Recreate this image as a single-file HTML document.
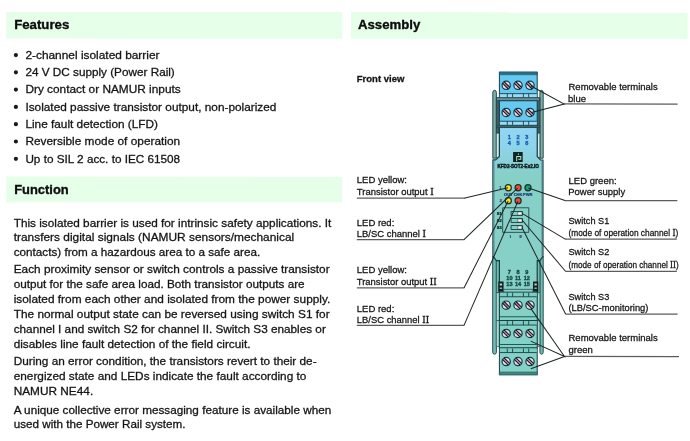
<!DOCTYPE html>
<html><head><meta charset="utf-8">
<style>
html,body{margin:0;padding:0;background:#fff;}
body{width:690px;height:441px;position:relative;overflow:hidden;font-family:"Liberation Sans",sans-serif;}
svg{position:absolute;left:0;top:0;will-change:transform;}
text{font-family:"Liberation Sans",sans-serif;fill:#151515;stroke:#151515;stroke-width:0.3px;}
.h{font-weight:bold;font-size:13.5px;fill:#0c0c0c;stroke:#0c0c0c;stroke-width:0.35px;}
.p{font-size:11.8px;}
.l{font-size:9.8px;stroke-width:0.28px;}

.ser{font-family:"Liberation Serif",serif;font-size:10.7px;}
.ld{stroke:#1c2424;stroke-width:1.0;fill:none;}
</style></head><body>
<svg width="690" height="441" viewBox="0 0 690 441">
<g transform="matrix(1 0.0003 0 1 0 0)">
<rect x="6.3" y="12" width="336" height="26.6" fill="#e5ffe8"/>
<rect x="6.3" y="176.6" width="336" height="25.6" fill="#e5ffe8"/>
<rect x="351" y="12" width="336.6" height="26.6" fill="#e5ffe8"/>
<text class="h" x="14.2" y="28.7" textLength="55.1" lengthAdjust="spacingAndGlyphs">Features</text>
<text class="h" x="14.2" y="193.8" textLength="54.5" lengthAdjust="spacingAndGlyphs">Function</text>
<text class="h" x="358" y="28.7" textLength="62.3" lengthAdjust="spacingAndGlyphs">Assembly</text>

<circle cx="15.9" cy="55.1" r="2.1" fill="#1a1a1a"/><text class="p" x="25.4" y="58.7" textLength="134.1" lengthAdjust="spacingAndGlyphs">2-channel isolated barrier</text>
<circle cx="15.9" cy="72.3" r="2.1" fill="#1a1a1a"/><text class="p" x="25.4" y="76.0" textLength="149.4" lengthAdjust="spacingAndGlyphs">24 V DC supply (Power Rail)</text>
<circle cx="15.9" cy="89.6" r="2.1" fill="#1a1a1a"/><text class="p" x="25.4" y="93.3" textLength="155.3" lengthAdjust="spacingAndGlyphs">Dry contact or NAMUR inputs</text>
<circle cx="15.9" cy="106.9" r="2.1" fill="#1a1a1a"/><text class="p" x="25.4" y="110.6" textLength="251.0" lengthAdjust="spacingAndGlyphs">Isolated passive transistor output, non-polarized</text>
<circle cx="15.9" cy="124.2" r="2.1" fill="#1a1a1a"/><text class="p" x="25.4" y="127.9" textLength="132.6" lengthAdjust="spacingAndGlyphs">Line fault detection (LFD)</text>
<circle cx="15.9" cy="141.5" r="2.1" fill="#1a1a1a"/><text class="p" x="25.4" y="145.2" textLength="154.7" lengthAdjust="spacingAndGlyphs">Reversible mode of operation</text>
<circle cx="15.9" cy="158.8" r="2.1" fill="#1a1a1a"/><text class="p" x="25.4" y="162.5" textLength="154.7" lengthAdjust="spacingAndGlyphs">Up to SIL 2 acc. to IEC 61508</text>
<text class="p" x="13.7" y="226.7" textLength="317.6" lengthAdjust="spacingAndGlyphs">This isolated barrier is used for intrinsic safety applications. It</text>
<text class="p" x="13.7" y="241.3" textLength="280.5" lengthAdjust="spacingAndGlyphs">transfers digital signals (NAMUR sensors/mechanical</text>
<text class="p" x="13.7" y="255.9" textLength="246.6" lengthAdjust="spacingAndGlyphs">contacts) from a hazardous area to a safe area.</text>
<text class="p" x="13.7" y="273.2" textLength="315.9" lengthAdjust="spacingAndGlyphs">Each proximity sensor or switch controls a passive transistor</text>
<text class="p" x="13.7" y="288.1" textLength="290.9" lengthAdjust="spacingAndGlyphs">output for the safe area load. Both transistor outputs are</text>
<text class="p" x="13.7" y="303.0" textLength="316.6" lengthAdjust="spacingAndGlyphs">isolated from each other and isolated from the power supply.</text>
<text class="p" x="13.7" y="317.9" textLength="315.9" lengthAdjust="spacingAndGlyphs">The normal output state can be reversed using switch S1 for</text>
<text class="p" x="13.7" y="332.8" textLength="312.1" lengthAdjust="spacingAndGlyphs">channel I and switch S2 for channel II. Switch S3 enables or</text>
<text class="p" x="13.7" y="347.7" textLength="236.8" lengthAdjust="spacingAndGlyphs">disables line fault detection of the field circuit.</text>
<text class="p" x="13.7" y="365.2" textLength="302.9" lengthAdjust="spacingAndGlyphs">During an error condition, the transistors revert to their de-</text>
<text class="p" x="13.7" y="380.1" textLength="292.7" lengthAdjust="spacingAndGlyphs">energized state and LEDs indicate the fault according to</text>
<text class="p" x="13.7" y="395.0" textLength="79.5" lengthAdjust="spacingAndGlyphs">NAMUR NE44.</text>
<text class="p" x="13.7" y="413.6" textLength="317.6" lengthAdjust="spacingAndGlyphs">A unique collective error messaging feature is available when</text>
<text class="p" x="13.7" y="428.4" textLength="171.8" lengthAdjust="spacingAndGlyphs">used with the Power Rail system.</text>
<defs><linearGradient id="face" gradientUnits="userSpaceOnUse" x1="0" y1="127" x2="0" y2="292"><stop offset="0" stop-color="#92d6f3"/><stop offset="0.11" stop-color="#8ed4ec"/><stop offset="0.19" stop-color="#8ad2de"/><stop offset="0.25" stop-color="#88d1cd"/><stop offset="0.30" stop-color="#87d0c7"/><stop offset="1" stop-color="#87d0c7"/></linearGradient></defs>
<path d="M492.8 92.2 Q492.8 90.2 494.6 90.2 Q496.4 90.2 496.4 92.2 L496.4 158 L492.8 158 Z" fill="#80ada2" stroke="#173f48" stroke-width="0.9"/>
<path d="M539.9 92.2 Q539.9 90.2 541.6 90.2 Q543.2 90.2 543.2 92.2 L543.2 158 L539.9 158 Z" fill="#80ada2" stroke="#173f48" stroke-width="0.9"/>
<rect x="496.3" y="97.6" width="3.1" height="35.4" fill="#3f6062" stroke="#173f48" stroke-width="0.7"/>
<rect x="496.3" y="133" width="3.1" height="24.6" fill="#d4ebe6" stroke="#173f48" stroke-width="0.7"/>
<rect x="537.2" y="97.6" width="2.7" height="35.4" fill="#3f6062" stroke="#173f48" stroke-width="0.7"/>
<rect x="537.2" y="133" width="2.7" height="24.6" fill="#d4ebe6" stroke="#173f48" stroke-width="0.7"/>
<path d="M492.7 256 L496.4 260.5 L496.4 352.2 Q496.4 354 494.5 354 Q492.7 354 492.7 352.2 Z" fill="#72bfb1" stroke="#173f48" stroke-width="0.9"/>
<path d="M543.2 256 L539.9 260.5 L539.9 352.2 Q539.9 354 541.5 354 Q543.2 354 543.2 352.2 Z" fill="#72bfb1" stroke="#173f48" stroke-width="0.9"/>
<rect x="496.3" y="260.5" width="3.1" height="32" fill="#72bfb1" stroke="#173f48" stroke-width="0.7"/>
<rect x="496.3" y="292.5" width="3.1" height="28" fill="#a8ddd2" stroke="#173f48" stroke-width="0.6"/>
<rect x="537.2" y="260.5" width="2.7" height="32" fill="#72bfb1" stroke="#173f48" stroke-width="0.7"/>
<rect x="537.2" y="292.5" width="2.7" height="28" fill="#a8ddd2" stroke="#173f48" stroke-width="0.6"/>
<rect x="496.3" y="320.5" width="3.1" height="26" fill="#a8ddd2" stroke="#173f48" stroke-width="0.6"/>
<rect x="537.2" y="320.5" width="2.7" height="26" fill="#a8ddd2" stroke="#173f48" stroke-width="0.6"/>
<path d="M499.4 127 L537.2 127 L537.2 156.3 L540.5 159.8 L543.0 159.8 L543.0 256 L539.9 260.5 L537.2 260.5 L537.2 292.4 L499.4 292.4 L499.4 260.5 L496.4 260.5 L492.9 256 L492.9 159.8 L495.6 159.8 L499.4 156.3 Z" fill="url(#face)" stroke="#173f48" stroke-width="1.15"/>
<line x1="494.3" y1="160.5" x2="494.3" y2="256" stroke="#173f48" stroke-width="0.5" opacity="0.55"/>
<line x1="541.7" y1="160.5" x2="541.7" y2="256" stroke="#173f48" stroke-width="0.5" opacity="0.55"/>
<rect x="499.4" y="72.2" width="37.8" height="25.4" fill="#66c9f0" stroke="#173f48" stroke-width="1"/>
<rect x="499.9" y="93.5" width="36.8" height="3.6" fill="#9bdaf5"/>
<line x1="499.9" y1="93.5" x2="536.7" y2="93.5" stroke="#173f48" stroke-width="0.9"/>
<line x1="507.3" y1="93.5" x2="507.3" y2="97.1" stroke="#173f48" stroke-width="0.9"/>
<line x1="512.6" y1="93.5" x2="512.6" y2="97.1" stroke="#173f48" stroke-width="0.9"/>
<line x1="523.4" y1="93.5" x2="523.4" y2="97.1" stroke="#173f48" stroke-width="0.9"/>
<line x1="528.7" y1="93.5" x2="528.7" y2="97.1" stroke="#173f48" stroke-width="0.9"/>
<circle cx="506.2" cy="85.2" r="4.15" fill="#e4e1e7" stroke="#143a4e" stroke-width="1.2"/>
<line x1="504.05" y1="81.55" x2="509.85" y2="87.36" stroke="#12161e" stroke-width="1.15"/>
<line x1="503.30" y1="82.30" x2="509.10" y2="88.11" stroke="#a84050" stroke-width="0.6"/>
<line x1="502.55" y1="83.05" x2="508.35" y2="88.86" stroke="#12161e" stroke-width="1.15"/>
<circle cx="518.0" cy="85.2" r="4.15" fill="#e4e1e7" stroke="#143a4e" stroke-width="1.2"/>
<line x1="515.85" y1="81.55" x2="521.65" y2="87.36" stroke="#12161e" stroke-width="1.15"/>
<line x1="515.10" y1="82.30" x2="520.90" y2="88.11" stroke="#a84050" stroke-width="0.6"/>
<line x1="514.35" y1="83.05" x2="520.15" y2="88.86" stroke="#12161e" stroke-width="1.15"/>
<circle cx="530.0" cy="85.2" r="4.15" fill="#e4e1e7" stroke="#143a4e" stroke-width="1.2"/>
<line x1="527.85" y1="81.55" x2="533.65" y2="87.36" stroke="#12161e" stroke-width="1.15"/>
<line x1="527.10" y1="82.30" x2="532.90" y2="88.11" stroke="#a84050" stroke-width="0.6"/>
<line x1="526.35" y1="83.05" x2="532.15" y2="88.86" stroke="#12161e" stroke-width="1.15"/>
<rect x="496.6" y="97.6" width="43" height="2.9" fill="#6f8f90" stroke="#173f48" stroke-width="0.7"/>
<rect x="499.4" y="100.5" width="37.8" height="24.7" fill="#66c9f0" stroke="#173f48" stroke-width="1"/>
<rect x="499.9" y="121.1" width="36.8" height="3.6" fill="#9bdaf5"/>
<line x1="499.9" y1="121.1" x2="536.7" y2="121.1" stroke="#173f48" stroke-width="0.9"/>
<line x1="507.3" y1="121.1" x2="507.3" y2="124.7" stroke="#173f48" stroke-width="0.9"/>
<line x1="512.6" y1="121.1" x2="512.6" y2="124.7" stroke="#173f48" stroke-width="0.9"/>
<line x1="523.4" y1="121.1" x2="523.4" y2="124.7" stroke="#173f48" stroke-width="0.9"/>
<line x1="528.7" y1="121.1" x2="528.7" y2="124.7" stroke="#173f48" stroke-width="0.9"/>
<circle cx="506.2" cy="112.3" r="4.15" fill="#e4e1e7" stroke="#143a4e" stroke-width="1.2"/>
<line x1="504.05" y1="108.64" x2="509.85" y2="114.45" stroke="#12161e" stroke-width="1.15"/>
<line x1="503.30" y1="109.39" x2="509.10" y2="115.20" stroke="#a84050" stroke-width="0.6"/>
<line x1="502.55" y1="110.14" x2="508.35" y2="115.95" stroke="#12161e" stroke-width="1.15"/>
<circle cx="518.0" cy="112.3" r="4.15" fill="#e4e1e7" stroke="#143a4e" stroke-width="1.2"/>
<line x1="515.85" y1="108.64" x2="521.65" y2="114.45" stroke="#12161e" stroke-width="1.15"/>
<line x1="515.10" y1="109.39" x2="520.90" y2="115.20" stroke="#a84050" stroke-width="0.6"/>
<line x1="514.35" y1="110.14" x2="520.15" y2="115.95" stroke="#12161e" stroke-width="1.15"/>
<circle cx="530.0" cy="112.3" r="4.15" fill="#e4e1e7" stroke="#143a4e" stroke-width="1.2"/>
<line x1="527.85" y1="108.64" x2="533.65" y2="114.45" stroke="#12161e" stroke-width="1.15"/>
<line x1="527.10" y1="109.39" x2="532.90" y2="115.20" stroke="#a84050" stroke-width="0.6"/>
<line x1="526.35" y1="110.14" x2="532.15" y2="115.95" stroke="#12161e" stroke-width="1.15"/>
<rect x="496.6" y="125.2" width="43" height="2.2" fill="#3f5f60" stroke="#173f48" stroke-width="0.6"/>
<text x="509.4" y="138.9" text-anchor="middle" style="font-size:5.6px;font-weight:bold;fill:#1a5fb0;stroke:#1a5fb0;stroke-width:0.35px">1</text>
<text x="509.4" y="145.1" text-anchor="middle" style="font-size:5.6px;font-weight:bold;fill:#1a5fb0;stroke:#1a5fb0;stroke-width:0.35px">4</text>
<text x="518.0" y="138.9" text-anchor="middle" style="font-size:5.6px;font-weight:bold;fill:#1a5fb0;stroke:#1a5fb0;stroke-width:0.35px">2</text>
<text x="518.0" y="145.1" text-anchor="middle" style="font-size:5.6px;font-weight:bold;fill:#1a5fb0;stroke:#1a5fb0;stroke-width:0.35px">5</text>
<text x="526.8" y="138.9" text-anchor="middle" style="font-size:5.6px;font-weight:bold;fill:#1a5fb0;stroke:#1a5fb0;stroke-width:0.35px">3</text>
<text x="526.8" y="145.1" text-anchor="middle" style="font-size:5.6px;font-weight:bold;fill:#1a5fb0;stroke:#1a5fb0;stroke-width:0.35px">6</text>
<rect x="513.1" y="151.8" width="9.6" height="10" fill="#10241f"/>
<path d="M516.7 161.2 L516.7 156.4 L520.8 156.4 L520.8 159 L518.3 159" fill="none" stroke="#b4e2d4" stroke-width="1"/><path d="M517.6 154.6 L518.6 152.6 L519 154.8 Z" fill="#9fd0c2"/>
<text x="518.2" y="167.6" text-anchor="middle" textLength="41.5" lengthAdjust="spacingAndGlyphs" style="font-size:4.6px;font-weight:bold;fill:#0b181c;stroke:#0b181c;stroke-width:0.4px">KFD2-SOT2-Ex2.IO</text>
<circle cx="508.3" cy="187.6" r="3.05" fill="#f7e326" stroke="#1e2e26" stroke-width="1.2"/>
<circle cx="518.1" cy="187.6" r="3.05" fill="#f04c3b" stroke="#1e2e26" stroke-width="1.2"/>
<circle cx="528.0" cy="187.6" r="3.05" fill="#17a07a" stroke="#1e2e26" stroke-width="1.2"/>
<circle cx="508.3" cy="200.5" r="3.05" fill="#f7e326" stroke="#1e2e26" stroke-width="1.2"/>
<circle cx="518.1" cy="200.5" r="3.05" fill="#f04c3b" stroke="#1e2e26" stroke-width="1.2"/>
<text x="500.6" y="188.9" text-anchor="middle" style="font-size:4.4px;font-weight:bold;fill:#2a4a6a;stroke:#2a4a6a;stroke-width:0.15px">1</text>
<text x="500.8" y="202" text-anchor="middle" style="font-size:4.4px;font-weight:bold;fill:#2a4a6a;stroke:#2a4a6a;stroke-width:0.15px">2</text>
<text x="508.3" y="195.9" text-anchor="middle" style="font-size:4.1px;font-weight:bold;fill:#173c78;stroke:#173c78;stroke-width:0.2px">OUT</text>
<text x="518.1" y="195.9" text-anchor="middle" style="font-size:4.1px;font-weight:bold;fill:#173c78;stroke:#173c78;stroke-width:0.2px">CHK</text>
<text x="527.8" y="195.9" text-anchor="middle" style="font-size:4.1px;font-weight:bold;fill:#173c78;stroke:#173c78;stroke-width:0.2px">PWR</text>
<rect x="502.7" y="207.6" width="26.1" height="24.6" fill="#87d0c7" stroke="#1e4a4a" stroke-width="0.9"/>
<rect x="511.1" y="211.3" width="11.4" height="4" fill="#87d0c7" stroke="#163c3c" stroke-width="0.9"/>
<rect x="517.7" y="211.8" width="4.3" height="3" fill="#ffffff" stroke="#163c3c" stroke-width="0.5"/>
<text x="499.3" y="214.8" text-anchor="middle" style="font-size:4.1px;font-weight:bold;fill:#0c1a1c;stroke:#0c1a1c;stroke-width:0.2px">S1</text>
<rect x="511.1" y="218.3" width="11.4" height="4" fill="#87d0c7" stroke="#163c3c" stroke-width="0.9"/>
<rect x="517.7" y="218.8" width="4.3" height="3" fill="#ffffff" stroke="#163c3c" stroke-width="0.5"/>
<text x="499.3" y="221.8" text-anchor="middle" style="font-size:4.1px;font-weight:bold;fill:#0c1a1c;stroke:#0c1a1c;stroke-width:0.2px">S2</text>
<rect x="511.1" y="225.4" width="11.4" height="4" fill="#87d0c7" stroke="#163c3c" stroke-width="0.9"/>
<rect x="517.7" y="225.9" width="4.3" height="3" fill="#ffffff" stroke="#163c3c" stroke-width="0.5"/>
<text x="499.3" y="228.9" text-anchor="middle" style="font-size:4.1px;font-weight:bold;fill:#0c1a1c;stroke:#0c1a1c;stroke-width:0.2px">S3</text>
<text x="510.3" y="237.5" text-anchor="middle" style="font-size:4.1px;font-weight:bold;fill:#153a66;stroke:#153a66;stroke-width:0.2px">I</text>
<text x="520.6" y="237.5" text-anchor="middle" style="font-size:4.1px;font-weight:bold;fill:#153a66;stroke:#153a66;stroke-width:0.2px">II</text>
<text x="509.4" y="274.2" text-anchor="middle" style="font-size:5.6px;font-weight:bold;fill:#124a44;stroke:#124a44;stroke-width:0.35px">7</text>
<text x="518.0" y="274.2" text-anchor="middle" style="font-size:5.6px;font-weight:bold;fill:#124a44;stroke:#124a44;stroke-width:0.35px">8</text>
<text x="526.8" y="274.2" text-anchor="middle" style="font-size:5.6px;font-weight:bold;fill:#124a44;stroke:#124a44;stroke-width:0.35px">9</text>
<text x="509.4" y="280.3" text-anchor="middle" style="font-size:5.6px;font-weight:bold;fill:#124a44;stroke:#124a44;stroke-width:0.35px">10</text>
<text x="518.0" y="280.3" text-anchor="middle" style="font-size:5.6px;font-weight:bold;fill:#124a44;stroke:#124a44;stroke-width:0.35px">11</text>
<text x="526.8" y="280.3" text-anchor="middle" style="font-size:5.6px;font-weight:bold;fill:#124a44;stroke:#124a44;stroke-width:0.35px">12</text>
<text x="509.4" y="285.9" text-anchor="middle" style="font-size:5.6px;font-weight:bold;fill:#124a44;stroke:#124a44;stroke-width:0.35px">13</text>
<text x="518.0" y="285.9" text-anchor="middle" style="font-size:5.6px;font-weight:bold;fill:#124a44;stroke:#124a44;stroke-width:0.35px">14</text>
<text x="526.8" y="285.9" text-anchor="middle" style="font-size:5.6px;font-weight:bold;fill:#124a44;stroke:#124a44;stroke-width:0.35px">15</text>
<rect x="498.3" y="281.3" width="5.3" height="10.4" fill="#18201f"/>
<rect x="499.7" y="283.4" width="2.4" height="1.9" fill="#a8d8ce"/>
<rect x="499.7" y="287.3" width="2.4" height="1.6" fill="#7fb8ae"/>
<rect x="533.0" y="281.3" width="5.3" height="10.4" fill="#18201f"/>
<rect x="534.4" y="283.4" width="2.4" height="1.9" fill="#a8d8ce"/>
<rect x="534.4" y="287.3" width="2.4" height="1.6" fill="#7fb8ae"/>
<rect x="503.6" y="289.2" width="29.4" height="3" fill="#8bd0c4" stroke="#173f48" stroke-width="0.7"/>
<rect x="499.4" y="292.1" width="37.8" height="28.3" fill="#84d2c5" stroke="#173f48" stroke-width="1"/>
<rect x="499.9" y="292.6" width="36.8" height="4" fill="#7ccdbf"/>
<line x1="499.9" y1="296.6" x2="536.7" y2="296.6" stroke="#173f48" stroke-width="0.9"/>
<line x1="507.3" y1="292.6" x2="507.3" y2="296.6" stroke="#173f48" stroke-width="0.9"/>
<line x1="512.6" y1="292.6" x2="512.6" y2="296.6" stroke="#173f48" stroke-width="0.9"/>
<line x1="523.4" y1="292.6" x2="523.4" y2="296.6" stroke="#173f48" stroke-width="0.9"/>
<line x1="528.7" y1="292.6" x2="528.7" y2="296.6" stroke="#173f48" stroke-width="0.9"/>
<circle cx="506.2" cy="305.0" r="4.15" fill="#e4e1e7" stroke="#143a4e" stroke-width="1.2"/>
<line x1="504.05" y1="301.35" x2="509.85" y2="307.15" stroke="#12161e" stroke-width="1.15"/>
<line x1="503.30" y1="302.10" x2="509.10" y2="307.90" stroke="#a84050" stroke-width="0.6"/>
<line x1="502.55" y1="302.85" x2="508.35" y2="308.65" stroke="#12161e" stroke-width="1.15"/>
<circle cx="518.0" cy="305.0" r="4.15" fill="#e4e1e7" stroke="#143a4e" stroke-width="1.2"/>
<line x1="515.85" y1="301.35" x2="521.65" y2="307.15" stroke="#12161e" stroke-width="1.15"/>
<line x1="515.10" y1="302.10" x2="520.90" y2="307.90" stroke="#a84050" stroke-width="0.6"/>
<line x1="514.35" y1="302.85" x2="520.15" y2="308.65" stroke="#12161e" stroke-width="1.15"/>
<circle cx="530.0" cy="305.0" r="4.15" fill="#e4e1e7" stroke="#143a4e" stroke-width="1.2"/>
<line x1="527.85" y1="301.35" x2="533.65" y2="307.15" stroke="#12161e" stroke-width="1.15"/>
<line x1="527.10" y1="302.10" x2="532.90" y2="307.90" stroke="#a84050" stroke-width="0.6"/>
<line x1="526.35" y1="302.85" x2="532.15" y2="308.65" stroke="#12161e" stroke-width="1.15"/>
<rect x="499.4" y="320.4" width="37.8" height="27.5" fill="#84d2c5" stroke="#173f48" stroke-width="1"/>
<rect x="499.9" y="320.9" width="36.8" height="4" fill="#7ccdbf"/>
<line x1="499.9" y1="324.9" x2="536.7" y2="324.9" stroke="#173f48" stroke-width="0.9"/>
<line x1="507.3" y1="320.9" x2="507.3" y2="324.9" stroke="#173f48" stroke-width="0.9"/>
<line x1="512.6" y1="320.9" x2="512.6" y2="324.9" stroke="#173f48" stroke-width="0.9"/>
<line x1="523.4" y1="320.9" x2="523.4" y2="324.9" stroke="#173f48" stroke-width="0.9"/>
<line x1="528.7" y1="320.9" x2="528.7" y2="324.9" stroke="#173f48" stroke-width="0.9"/>
<circle cx="506.2" cy="333.3" r="4.15" fill="#e4e1e7" stroke="#143a4e" stroke-width="1.2"/>
<line x1="504.05" y1="329.65" x2="509.85" y2="335.45" stroke="#12161e" stroke-width="1.15"/>
<line x1="503.30" y1="330.40" x2="509.10" y2="336.20" stroke="#a84050" stroke-width="0.6"/>
<line x1="502.55" y1="331.15" x2="508.35" y2="336.95" stroke="#12161e" stroke-width="1.15"/>
<circle cx="518.0" cy="333.3" r="4.15" fill="#e4e1e7" stroke="#143a4e" stroke-width="1.2"/>
<line x1="515.85" y1="329.65" x2="521.65" y2="335.45" stroke="#12161e" stroke-width="1.15"/>
<line x1="515.10" y1="330.40" x2="520.90" y2="336.20" stroke="#a84050" stroke-width="0.6"/>
<line x1="514.35" y1="331.15" x2="520.15" y2="336.95" stroke="#12161e" stroke-width="1.15"/>
<circle cx="530.0" cy="333.3" r="4.15" fill="#e4e1e7" stroke="#143a4e" stroke-width="1.2"/>
<line x1="527.85" y1="329.65" x2="533.65" y2="335.45" stroke="#12161e" stroke-width="1.15"/>
<line x1="527.10" y1="330.40" x2="532.90" y2="336.20" stroke="#a84050" stroke-width="0.6"/>
<line x1="526.35" y1="331.15" x2="532.15" y2="336.95" stroke="#12161e" stroke-width="1.15"/>
<rect x="499.4" y="347.9" width="37.8" height="26.6" fill="#84d2c5" stroke="#173f48" stroke-width="1"/>
<rect x="499.9" y="348.4" width="36.8" height="4" fill="#7ccdbf"/>
<line x1="499.9" y1="352.4" x2="536.7" y2="352.4" stroke="#173f48" stroke-width="0.9"/>
<line x1="507.3" y1="348.4" x2="507.3" y2="352.4" stroke="#173f48" stroke-width="0.9"/>
<line x1="512.6" y1="348.4" x2="512.6" y2="352.4" stroke="#173f48" stroke-width="0.9"/>
<line x1="523.4" y1="348.4" x2="523.4" y2="352.4" stroke="#173f48" stroke-width="0.9"/>
<line x1="528.7" y1="348.4" x2="528.7" y2="352.4" stroke="#173f48" stroke-width="0.9"/>
<circle cx="506.2" cy="361.4" r="4.15" fill="#e4e1e7" stroke="#143a4e" stroke-width="1.2"/>
<line x1="504.05" y1="357.75" x2="509.85" y2="363.55" stroke="#12161e" stroke-width="1.15"/>
<line x1="503.30" y1="358.50" x2="509.10" y2="364.30" stroke="#a84050" stroke-width="0.6"/>
<line x1="502.55" y1="359.25" x2="508.35" y2="365.05" stroke="#12161e" stroke-width="1.15"/>
<circle cx="518.0" cy="361.4" r="4.15" fill="#e4e1e7" stroke="#143a4e" stroke-width="1.2"/>
<line x1="515.85" y1="357.75" x2="521.65" y2="363.55" stroke="#12161e" stroke-width="1.15"/>
<line x1="515.10" y1="358.50" x2="520.90" y2="364.30" stroke="#a84050" stroke-width="0.6"/>
<line x1="514.35" y1="359.25" x2="520.15" y2="365.05" stroke="#12161e" stroke-width="1.15"/>
<circle cx="530.0" cy="361.4" r="4.15" fill="#e4e1e7" stroke="#143a4e" stroke-width="1.2"/>
<line x1="527.85" y1="357.75" x2="533.65" y2="363.55" stroke="#12161e" stroke-width="1.15"/>
<line x1="527.10" y1="358.50" x2="532.90" y2="364.30" stroke="#a84050" stroke-width="0.6"/>
<line x1="526.35" y1="359.25" x2="532.15" y2="365.05" stroke="#12161e" stroke-width="1.15"/>
<line x1="499.9" y1="316.7" x2="536.7" y2="316.7" stroke="#1f5a55" stroke-width="1.0"/>
<line x1="499.9" y1="344.3" x2="536.7" y2="344.3" stroke="#1f5a55" stroke-width="1.0"/>
<rect x="499.4" y="371.8" width="37.8" height="2.8" fill="#3f857c" stroke="#2c6a64" stroke-width="0.6"/>
<rect x="499.4" y="71.8" width="37.8" height="2.8" fill="#2c6c86" stroke="#1f5a72" stroke-width="0.6"/>
<line x1="356.8" y1="198.0" x2="464.3" y2="198.0" stroke="#5c5c5c" stroke-width="1.25"/>
<polyline class="ld" points="464,198.0 508,187.7"/>
<line x1="356.8" y1="239.5" x2="464.3" y2="239.5" stroke="#5c5c5c" stroke-width="1.25"/>
<polyline class="ld" points="464,239.5 517.6,188.0"/>
<line x1="356.8" y1="287.8" x2="464.3" y2="287.8" stroke="#5c5c5c" stroke-width="1.25"/>
<polyline class="ld" points="464,287.8 508.2,200.8"/>
<line x1="356.8" y1="325.2" x2="464.3" y2="325.2" stroke="#5c5c5c" stroke-width="1.25"/>
<polyline class="ld" points="464,325.2 518,201"/>
<line x1="564.0" y1="103.8" x2="677.6" y2="103.8" stroke="#5c5c5c" stroke-width="1.25"/>
<polyline class="ld" points="531,85.8 564.2,103.8 531.5,112.4"/>
<line x1="564.8" y1="200.4" x2="677.3" y2="200.4" stroke="#5c5c5c" stroke-width="1.25"/>
<polyline class="ld" points="565.0,200.4 528.5,187.8"/>
<line x1="565.0" y1="238.9" x2="676.8" y2="238.9" stroke="#5c5c5c" stroke-width="1.25"/>
<polyline class="ld" points="565.2,238.9 522.5,213.4"/>
<line x1="565.3" y1="271.1" x2="676.8" y2="271.1" stroke="#5c5c5c" stroke-width="1.25"/>
<polyline class="ld" points="565.5,271.1 522.5,220.3"/>
<line x1="565.4" y1="313.9" x2="677.6" y2="313.9" stroke="#5c5c5c" stroke-width="1.25"/>
<polyline class="ld" points="565.6,313.9 522,227.4"/>
<line x1="564.3" y1="356.3" x2="679" y2="356.3" stroke="#5c5c5c" stroke-width="1.25"/>
<polyline class="ld" points="531.3,309 564.5,356.3 530.8,341"/>
<polyline class="ld" points="564.5,356.3 530.8,368.6"/>
<text x="356.8" y="82" style="font-weight:bold;font-size:9.5px">Front view</text>
<text class="l" x="356.8" y="183.1" textLength="50.2" lengthAdjust="spacingAndGlyphs">LED yellow:</text>
<text class="l" x="356.8" y="194.9" textLength="76.8" lengthAdjust="spacingAndGlyphs">Transistor output <tspan class="ser">I</tspan></text>
<text class="l" x="356.8" y="225.7" textLength="37.5" lengthAdjust="spacingAndGlyphs">LED red:</text>
<text class="l" x="356.8" y="236.8" textLength="69.2" lengthAdjust="spacingAndGlyphs">LB/SC channel <tspan class="ser">I</tspan></text>
<text class="l" x="356.8" y="272.7" textLength="50.2" lengthAdjust="spacingAndGlyphs">LED yellow:</text>
<text class="l" x="356.8" y="284.7" textLength="79.9" lengthAdjust="spacingAndGlyphs">Transistor output <tspan class="ser">II</tspan></text>
<text class="l" x="356.8" y="311.6" textLength="37.5" lengthAdjust="spacingAndGlyphs">LED red:</text>
<text class="l" x="356.8" y="322.5" textLength="72.3" lengthAdjust="spacingAndGlyphs">LB/SC channel <tspan class="ser">II</tspan></text>
<text class="l" x="568.5" y="90.1" textLength="89.2" lengthAdjust="spacingAndGlyphs">Removable terminals</text>
<text class="l" x="568.0" y="101.9" textLength="18.0" lengthAdjust="spacingAndGlyphs">blue</text>
<text class="l" x="568.5" y="183.8" textLength="48.1" lengthAdjust="spacingAndGlyphs">LED green:</text>
<text class="l" x="568.2" y="194.6" textLength="57.0" lengthAdjust="spacingAndGlyphs">Power supply</text>
<text class="l" x="568.5" y="223.4" textLength="40.8" lengthAdjust="spacingAndGlyphs">Switch S1</text>
<text class="l" x="568.5" y="235.9" textLength="109.7" lengthAdjust="spacingAndGlyphs">(mode of operation channel <tspan class="ser">I</tspan>)</text>
<text class="l" x="568.5" y="255.2" textLength="40.8" lengthAdjust="spacingAndGlyphs">Switch S2</text>
<text class="l" x="568.5" y="267.7" textLength="110.2" lengthAdjust="spacingAndGlyphs">(mode of operation channel <tspan class="ser">II</tspan>)</text>
<text class="l" x="568.5" y="299.7" textLength="40.8" lengthAdjust="spacingAndGlyphs">Switch S3</text>
<text class="l" x="568.5" y="310.5" textLength="79.9" lengthAdjust="spacingAndGlyphs">(LB/SC-monitoring)</text>
<text class="l" x="568.5" y="340.5" textLength="89.2" lengthAdjust="spacingAndGlyphs">Removable terminals</text>
<text class="l" x="568.5" y="352.9" textLength="24.3" lengthAdjust="spacingAndGlyphs">green</text>

</g></svg></body></html>
